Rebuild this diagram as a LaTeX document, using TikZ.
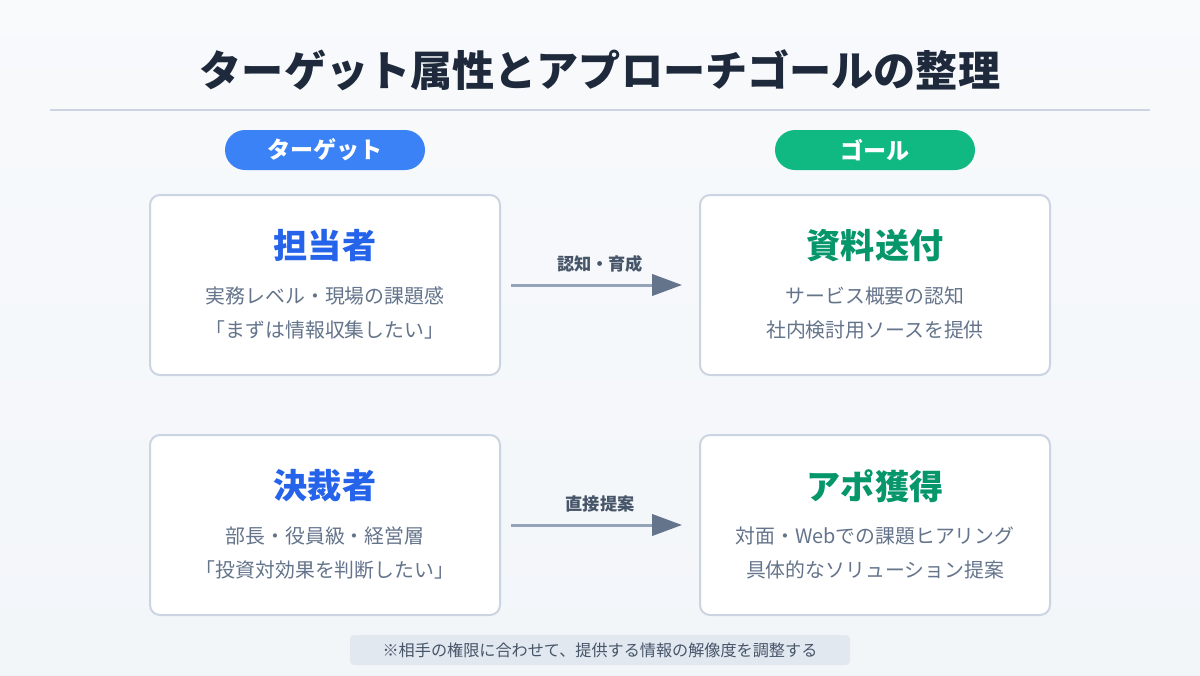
\documentclass[tikz,border=0pt]{standalone}
\usepackage{fontspec}
\setmainfont{Noto Sans CJK JP}
\usetikzlibrary{arrows.meta}
\definecolor{bgA}{HTML}{F8FAFC}
\definecolor{bgB}{HTML}{EEF2F7}
\definecolor{titlec}{HTML}{1E293B}
\definecolor{rulec}{HTML}{CBD5E1}
\definecolor{bluep}{HTML}{3B82F6}
\definecolor{greenp}{HTML}{10B981}
\definecolor{blueh}{HTML}{2563EB}
\definecolor{greenh}{HTML}{059669}
\definecolor{bodyc}{HTML}{64748B}
\definecolor{labelc}{HTML}{475569}
\definecolor{arrline}{HTML}{94A3B8}
\definecolor{arrhead}{HTML}{64748B}
\definecolor{notebg}{HTML}{E2E8F0}
\tikzset{
  pill/.style={rounded corners=20*0.75pt, minimum width=200*0.75pt, minimum height=40*0.75pt, inner sep=0pt, text=white, font=\fontsize{17.3}{20}\selectfont\bfseries},
  card/.style={draw=rulec, line width=1.5pt, fill=white, rounded corners=7.5pt, minimum width=350*0.75pt, minimum height=180*0.75pt, inner sep=0pt},
  headb/.style={font=\fontsize{25.6}{30}\selectfont\bfseries, text=blueh},
  headg/.style={font=\fontsize{25.6}{30}\selectfont\bfseries, text=greenh},
  bodyt/.style={font=\fontsize{14.9}{18}\selectfont, text=bodyc},
  arrlab/.style={font=\fontsize{12.9}{15}\selectfont\bfseries, text=labelc},
  flow/.style={draw=arrline, line width=2.25pt, -{Triangle[length=22.5pt,width=16pt,color=arrhead]}, shorten <=7.5pt, shorten >=12.75pt}
}
\begin{document}
\begin{tikzpicture}[x=0.75pt,y=-0.75pt]
\useasboundingbox (0,0) rectangle (1200,675);
\shade[left color=bgA, right color=bgB, shading angle=0] (0,0) rectangle (1200,675);
\fill[bgA, opacity=0.5] (0,0) rectangle (1200,675);
\node[font=\fontsize{31.6}{36}\selectfont\bfseries, text=titlec] (title) at (600,70) {ターゲット属性とアプローチゴールの整理};
\draw[rulec, line width=1.5pt] (50,110) coordinate (rl) -- (1150,110) coordinate (rr);
\node[pill, fill=bluep] (pt) at (325,150) {ターゲット};
\node[pill, fill=greenp] (pg) at (875,150) {ゴール};
\node[card] (c1) at (325,285) {};
\node[card] (c2) at (875,285) {};
\node[card] (c3) at (325,525) {};
\node[card] (c4) at (875,525) {};
\node[headb] (h1) at (325,246) {担当者};
\node[bodyt] (a1) at (325,296) {実務レベル・現場の課題感};
\node[bodyt] (b1) at (325,330) {「まずは情報収集したい」};
\node[headg] (h2) at (875,246) {資料送付};
\node[bodyt] (a2) at (875,296) {サービス概要の認知};
\node[bodyt] (b2) at (875,330) {社内検討用ソースを提供};
\node[headb] (h3) at (325,486) {決裁者};
\node[bodyt] (a3) at (325,536) {部長・役員級・経営層};
\node[bodyt] (b3) at (325,570) {「投資対効果を判断したい」};
\node[headg] (h4) at (875,486) {アポ獲得};
\node[bodyt] (a4) at (875,536) {対面・Webでの課題ヒアリング};
\node[bodyt] (b4) at (875,570) {具体的なソリューション提案};
\draw[flow] (c1.east) -- (c2.west);
\draw[flow] (c3.east) -- (c4.west);
\node[arrlab] (l1) at (600,264) {認知・育成};
\node[arrlab] (l2) at (600,504) {直接提案};
\node[fill=notebg, rounded corners=3pt, minimum width=500*0.75pt, minimum height=30*0.75pt, inner sep=0pt, font=\fontsize{12.1}{14}\selectfont, text=labelc] (note) at (600,650) {※相手の権限に合わせて、提供する情報の解像度を調整する};
\end{tikzpicture}
\end{document}
